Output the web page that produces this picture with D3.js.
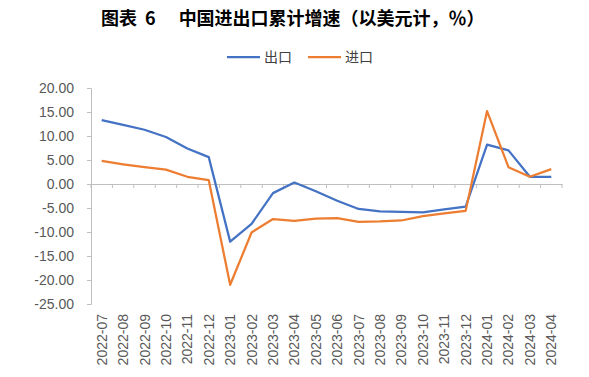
<!DOCTYPE html>
<html>
<head>
<meta charset="utf-8">
<script src="https://cdn.jsdelivr.net/npm/d3@7"></script>
<style>
  body { margin: 0; background: #fff; }
  svg text { font-family: "Liberation Sans", Arial, sans-serif; }
  .cjk { font-family: "Noto Sans CJK SC", sans-serif; }
</style>
</head>
<body>
<div id="chart"></div>
<script>
// categories (months)
const months = ["2022-07","2022-08","2022-09","2022-10","2022-11","2022-12",
    "2023-01","2023-02","2023-03","2023-04","2023-05","2023-06","2023-07",
    "2023-08","2023-09","2023-10","2023-11","2023-12","2024-01","2024-02",
    "2024-03","2024-04"];

// 出口 cumulative growth, %
const exportsGrowth = [13.3, 12.3, 11.3, 9.8, 7.4, 5.6,
    -12.0, -8.3, -1.9, 0.3, -1.5, -3.5, -5.2,
    -5.7, -5.8, -5.9, -5.3, -4.7, 8.2, 7.0,
    1.5, 1.5];

// 进口 cumulative growth, %
const importsGrowth = [4.8, 4.1, 3.5, 3.0, 1.5, 0.8,
    -21.0, -10.1, -7.3, -7.7, -7.2, -7.1, -7.9,
    -7.8, -7.6, -6.7, -6.1, -5.6, 15.2, 3.5,
    1.5, 3.1];

const yTicks = [20, 15, 10, 5, 0, -5, -10, -15, -20, -25];

const series = [
    { name: "出口", values: exportsGrowth, color: "#4472C4" },
    { name: "进口", values: importsGrowth, color: "#ED7D31" }
];

const width = 589, height = 377;
const margin = { left: 91, right: 27, top: 88, bottom: 73 };

const svg = d3.select("#chart").append("svg")
    .attr("width", width)
    .attr("height", height);

// title, split so the gaps match the original
let title = svg.append("text")
    .attr("class", "cjk")
    .attr("x", 101)
    .attr("y", 25)
    .style("font-size", "18px")
    .style("font-weight", "bold")
    .attr("fill", "#000");
title.append("tspan").text("图表");
title.append("tspan").attr("dx", 8).text("6");
title.append("tspan").attr("dx", 23).text("中国进出口累计增速（以美元计，％）");

// legend
let legend = svg.append("g").attr("transform", "translate(227,57)");
series.forEach((s, i) => {
    let g = legend.append("g").attr("transform", `translate(${i * 81},0)`);
    g.append("line")
        .attr("x1", 0).attr("x2", 33)
        .attr("y1", 0).attr("y2", 0)
        .attr("stroke", s.color)
        .attr("stroke-width", 2.25);
    g.append("text")
        .attr("class", "cjk")
        .attr("x", 37)
        .attr("y", 5)
        .style("font-size", "14px")
        .attr("fill", "#404040")
        .text(s.name);
});

let x = d3.scaleBand()
    .domain(months)
    .range([margin.left, width - margin.right]);

let y = d3.scaleLinear()
    .domain([-25, 20])
    .range([height - margin.bottom, margin.top]);

// y axis
let yAxis = svg.append("g")
    .attr("transform", `translate(${margin.left},0)`)
    .call(d3.axisLeft(y).tickValues(yTicks).tickSizeOuter(0).tickSize(4).tickPadding(13));
yAxis.select(".domain").attr("stroke", "#bfbfbf");
yAxis.selectAll(".tick line").attr("stroke", "#bfbfbf");
yAxis.selectAll("text")
    .style("font-size", "14px")
    .attr("fill", "#595959")
    .text(d => d < 0 ? "-" + d3.format(".2f")(-d) : d3.format(".2f")(d));

// x axis at zero
let xAxis = svg.append("g")
    .attr("transform", `translate(0,${y(0)})`)
    .call(d3.axisBottom(x).tickSize(0).tickFormat(""));
xAxis.select(".domain").attr("stroke", "#bfbfbf");

// tick marks at band edges
svg.append("g").selectAll("line")
    .data(months.concat(["end"]))
    .enter().append("line")
    .attr("x1", (d, i) => margin.left + i * x.step())
    .attr("x2", (d, i) => margin.left + i * x.step())
    .attr("y1", y(0))
    .attr("y2", y(0) + 4)
    .attr("stroke", "#bfbfbf");

// month labels at the bottom
svg.append("g").selectAll("text")
    .data(months)
    .enter().append("text")
    .attr("transform", d => `translate(${x(d) + x.bandwidth() / 2 + 5},314) rotate(-90)`)
    .attr("text-anchor", "end")
    .style("font-size", "14px")
    .attr("fill", "#595959")
    .text(d => d);

// lines
let line = d3.line()
    .x((d, i) => x(months[i]) + x.bandwidth() / 2)
    .y(d => y(d));

svg.append("g").selectAll("path")
    .data(series)
    .enter().append("path")
    .attr("d", s => line(s.values))
    .attr("fill", "none")
    .attr("stroke", s => s.color)
    .attr("stroke-width", 2.25)
    .attr("stroke-linejoin", "round");
</script>
</body>
</html>
